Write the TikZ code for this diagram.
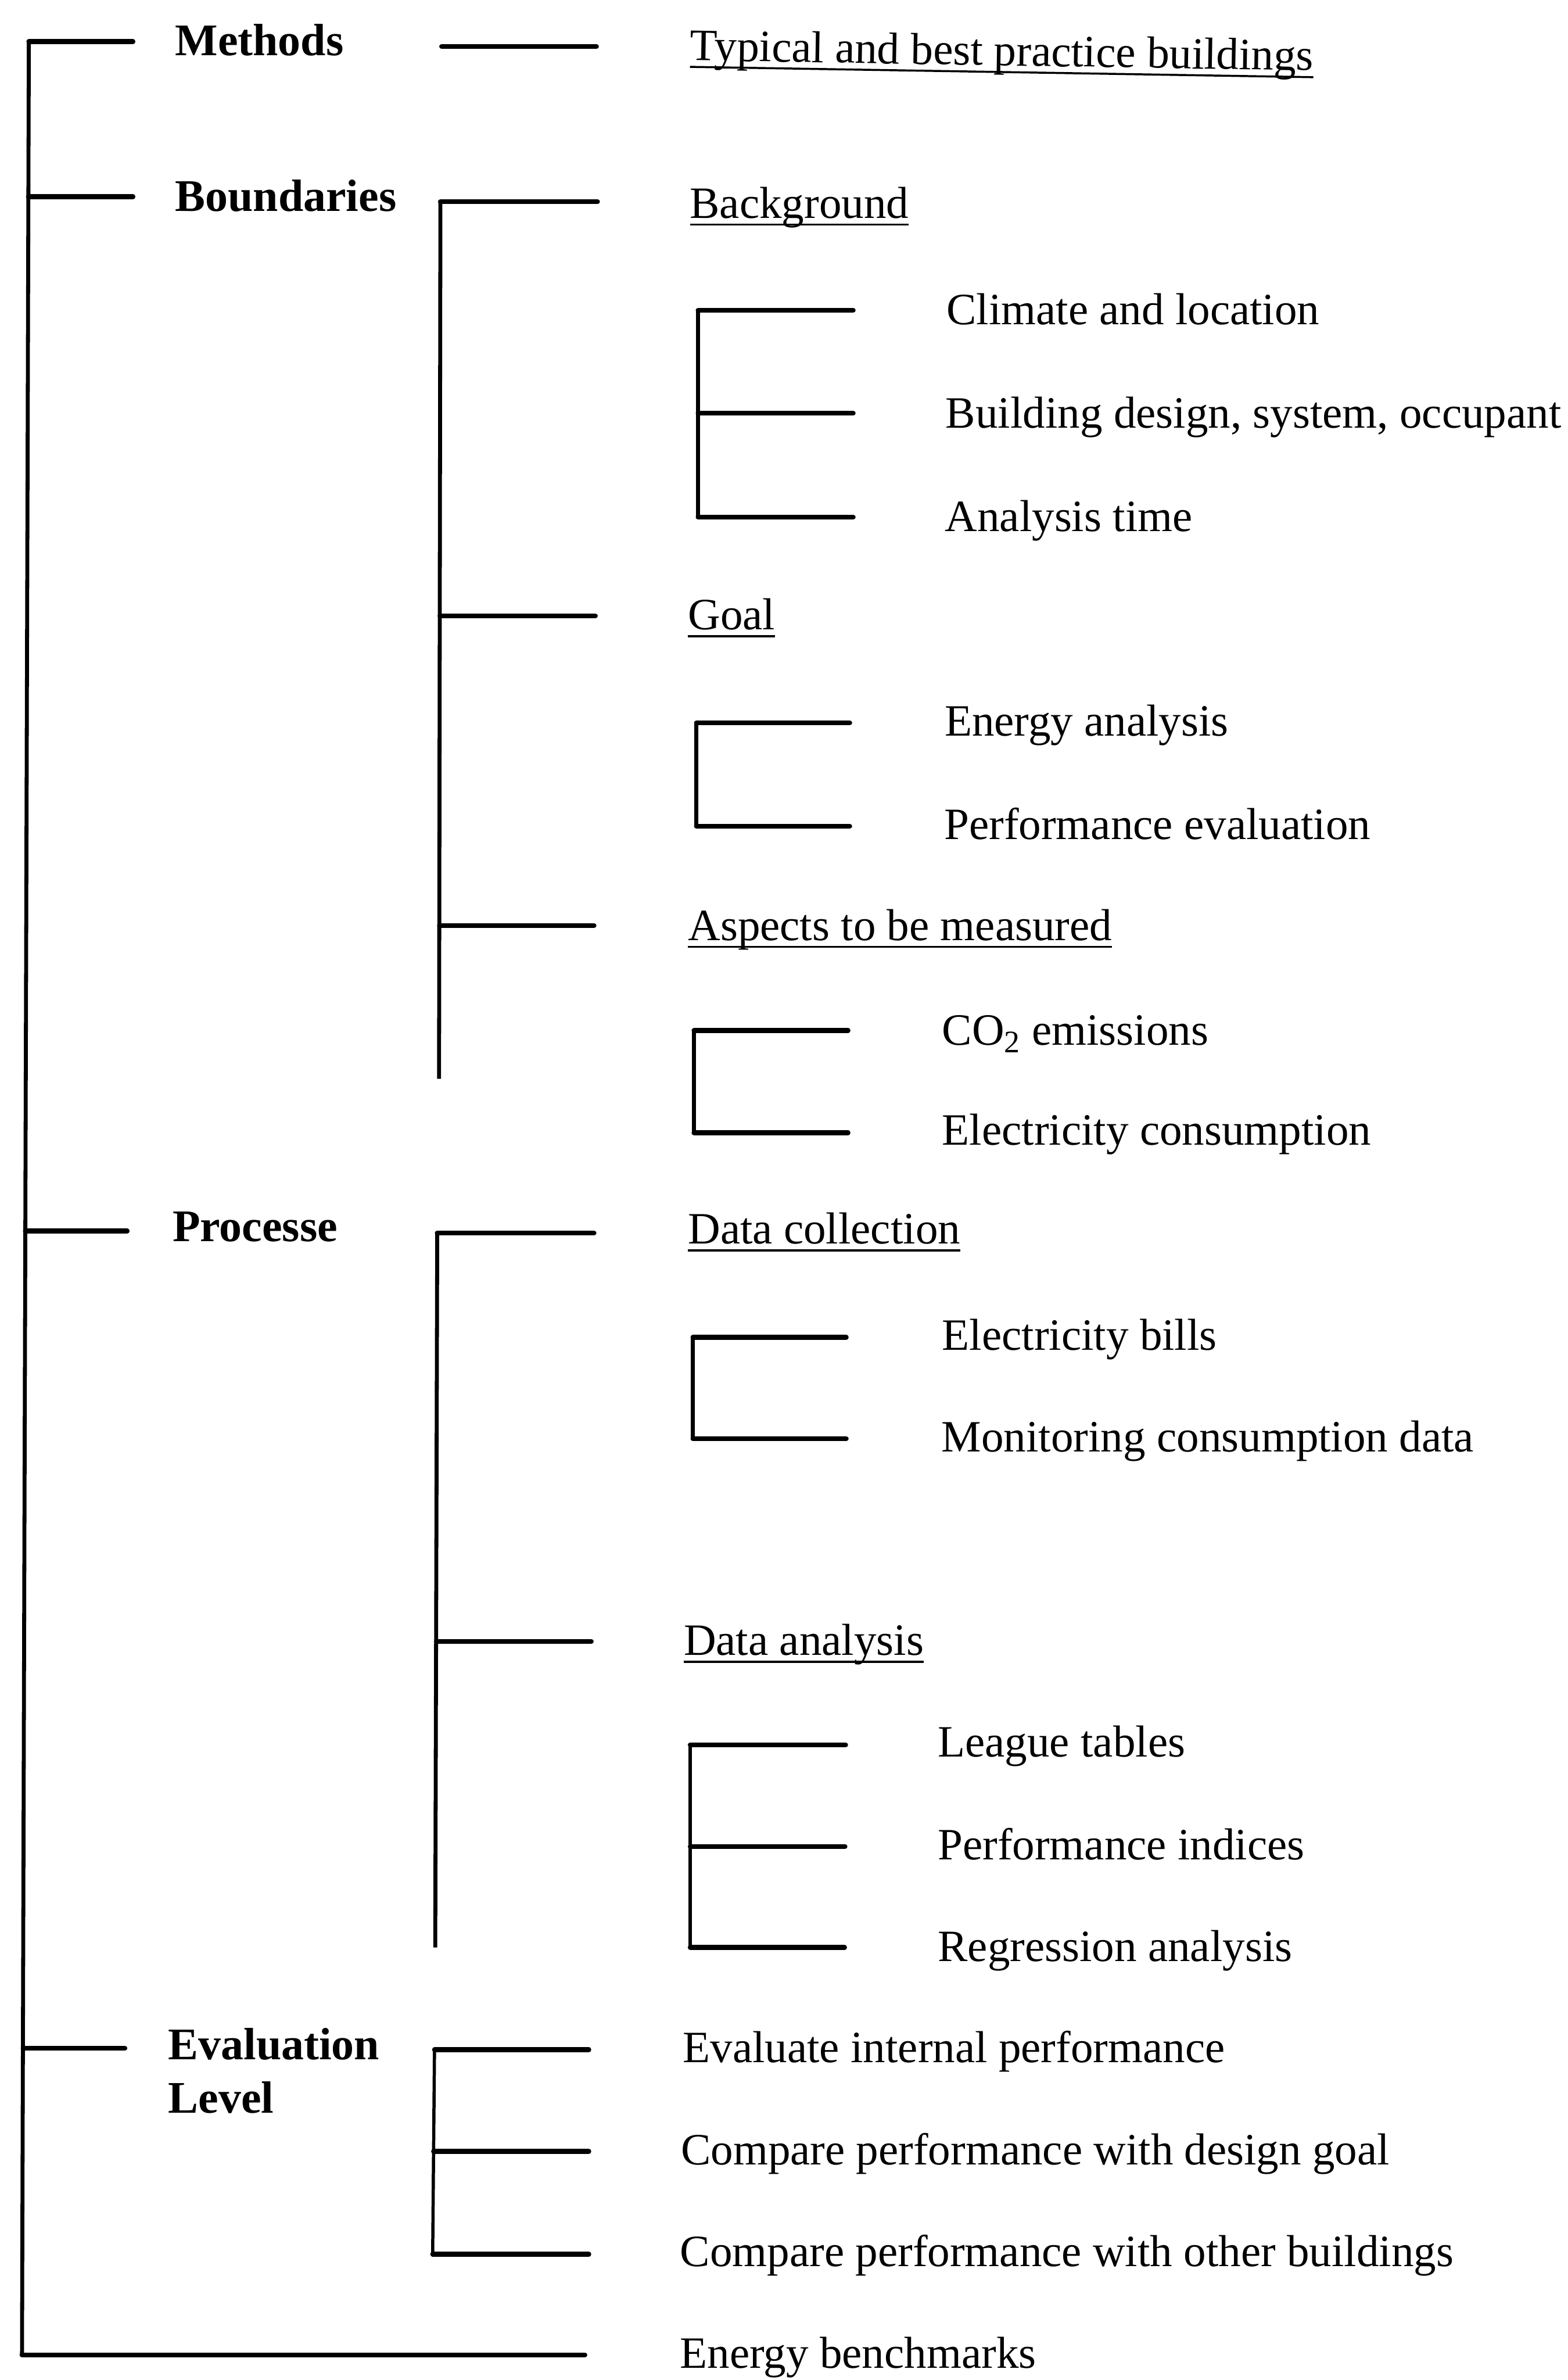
\documentclass[tikz,border=0pt]{standalone}
\usepackage{fontspec}
\setmainfont{Liberation Serif}
% underlined label: a thin rule a little below the baseline
\newcommand\ulabel[1]{\setbox0=\hbox{#1}\rlap{\rule[-0.17em]{\wd0}{0.045em}}\box0}
\begin{document}
\begin{tikzpicture}[x=1pt,y=-1pt,
  spine/.style={line width=2.6pt},
  thinspine/.style={line width=2.1pt},
  twig/.style={line width=3.2pt,line cap=round},
  head/.style={anchor=base west,inner sep=0pt,font=\fontsize{29.8}{34}\selectfont\bfseries},
  leaf/.style={anchor=base west,inner sep=0pt,font=\fontsize{29.5}{34}\selectfont}]
\useasboundingbox (0,0) rectangle (1033,1568);

% ---------------- labels ----------------
\node[head] (methods)    at (115.3,36.6)  {Methods};
\node[head] (boundaries) at (115.3,139.3) {Boundaries};
\node[head] (processe)   at (113.5,817.7) {Processe};
\node[head] (evalA)      at (110.7,1357)  {Evaluation};
\node[head] (evalB)      at (110.7,1392)  {Level};

\node[leaf,rotate=-0.95] (typical) at (454.5,39.7) {\ulabel{Typical and best practice buildings}};
\node[leaf] (background) at (454.4,143.6) {\ulabel{Background}};
\node[leaf] (climate)    at (623.5,213.9) {Climate and location};
\node[leaf] (design)     at (623.0,282.0) {Building design, system, occupant};
\node[leaf] (atime)      at (622.5,350.2) {Analysis time};
\node[leaf] (goal)       at (453.2,414.9) {\ulabel{Goal}};
\node[leaf] (energyan)   at (622.3,484.8) {Energy analysis};
\node[leaf] (perfeval)   at (622.0,552.9) {Performance evaluation};
\node[leaf] (aspects)    at (453.2,619.4) {\ulabel{Aspects to be measured}};
\node[leaf] (co2)        at (620.6,688.5) {CO\textsubscript{2} emissions};
\node[leaf] (elcons)     at (620.6,754.5) {Electricity consumption};
\node[leaf] (datacoll)   at (453.2,819.5) {\ulabel{Data collection}};
\node[leaf] (bills)      at (620.6,889.6) {Electricity bills};
\node[leaf] (monitor)    at (620.3,956.6) {Monitoring consumption data};
\node[leaf] (dataan)     at (450.4,1090.5){\ulabel{Data analysis}};
\node[leaf] (league)     at (617.8,1157.5){League tables};
\node[leaf] (indices)    at (617.8,1225.1){Performance indices};
\node[leaf] (regress)    at (617.8,1292.1){Regression analysis};
\node[leaf] (evalint)    at (449.8,1358.6){Evaluate internal performance};
\node[leaf] (cmpgoal)    at (448.5,1426.1){Compare performance with design goal};
\node[leaf] (cmpother)   at (448.0,1493.0){Compare performance with other buildings};
\node[leaf] (bench)      at (448.0,1560.0){Energy benchmarks};

% ---------------- main spine ----------------
\coordinate (m0) at (19.0,27.4);   \coordinate (e0) at (87.6,27.4);
\coordinate (m1) at (18.7,129.6);  \coordinate (e1) at (87.6,129.6);
\coordinate (m2) at (16.7,811.0);  \coordinate (e2) at (83.8,811.0);
\coordinate (m3) at (15.2,1349.3); \coordinate (e3) at (82.3,1349.3);
\coordinate (m4) at (14.5,1551.4); \coordinate (e4) at (385.4,1551.4);
\draw[spine] (m0) -- (m4);
\foreach \i in {0,...,4} {\draw[twig] (m\i) -- (e\i);}

% Methods
\coordinate (t0) at (291,30.6); \coordinate (t1) at (393,30.6);
\draw[twig] (t0) -- (t1);

% Boundaries
\coordinate (b0) at (290.2,132.9); \coordinate (bx0) at (393.7,132.9);
\coordinate (b1) at (289.9,405.8); \coordinate (bx1) at (392.3,405.8);
\coordinate (b2) at (289.6,609.7); \coordinate (bx2) at (391.4,609.7);
\coordinate (b3) at (289.3,710.7);
\draw[spine] (b0) -- (b3);
\foreach \i in {0,1,2} {\draw[twig] (b\i) -- (bx\i);}

% Background items
\coordinate (c0) at (460,204.4); \coordinate (cx0) at (562.2,204.4);
\coordinate (c1) at (460,272.3); \coordinate (cx1) at (562.2,272.3);
\coordinate (c2) at (460,340.7); \coordinate (cx2) at (562.2,340.7);
\draw[spine] (c0) -- (c2);
\foreach \i in {0,1,2} {\draw[twig] (c\i) -- (cx\i);}

% Goal items
\coordinate (g0) at (458.9,476.2); \coordinate (gx0) at (559.9,476.2);
\coordinate (g1) at (458.9,544.3); \coordinate (gx1) at (559.9,544.3);
\draw[spine] (g0) -- (g1);
\foreach \i in {0,1} {\draw[twig] (g\i) -- (gx\i);}

% Aspects items
\coordinate (a0) at (457.3,678.9); \coordinate (ax0) at (558.8,678.9);
\coordinate (a1) at (457.3,746.3); \coordinate (ax1) at (558.8,746.3);
\draw[spine] (a0) -- (a1);
\foreach \i in {0,1} {\draw[twig] (a\i) -- (ax\i);}

% Processe
\coordinate (p0) at (288.1,812.4);  \coordinate (px0) at (391.4,812.4);
\coordinate (p1) at (287.5,1081.4); \coordinate (px1) at (389.6,1081.4);
\coordinate (p2) at (286.8,1283.0);
\draw[spine] (p0) -- (p2);
\foreach \i in {0,1} {\draw[twig] (p\i) -- (px\i);}

% Data collection items
\coordinate (d0) at (456.6,881.0); \coordinate (dx0) at (557.6,881.0);
\coordinate (d1) at (456.6,947.9); \coordinate (dx1) at (557.6,947.9);
\draw[spine] (d0) -- (d1);
\foreach \i in {0,1} {\draw[twig] (d\i) -- (dx\i);}

% Data analysis items
\coordinate (n0) at (454.8,1149.5); \coordinate (nx0) at (557.2,1149.5);
\coordinate (n1) at (454.8,1216.5); \coordinate (nx1) at (556.8,1216.5);
\coordinate (n2) at (454.8,1283.0); \coordinate (nx2) at (556.5,1283.0);
\draw[spine] (n0) -- (n2);
\foreach \i in {0,1,2} {\draw[twig] (n\i) -- (nx\i);}

% Evaluation level items
\coordinate (v0) at (286.3,1350.4); \coordinate (vx0) at (388,1350.4);
\coordinate (v1) at (285.7,1417.4); \coordinate (vx1) at (388,1417.4);
\coordinate (v2) at (285.1,1485.1); \coordinate (vx2) at (388,1485.1);
\draw[thinspine] (v0) -- (v2);
\foreach \i in {0,1,2} {\draw[twig] (v\i) -- (vx\i);}
\end{tikzpicture}
\end{document}
